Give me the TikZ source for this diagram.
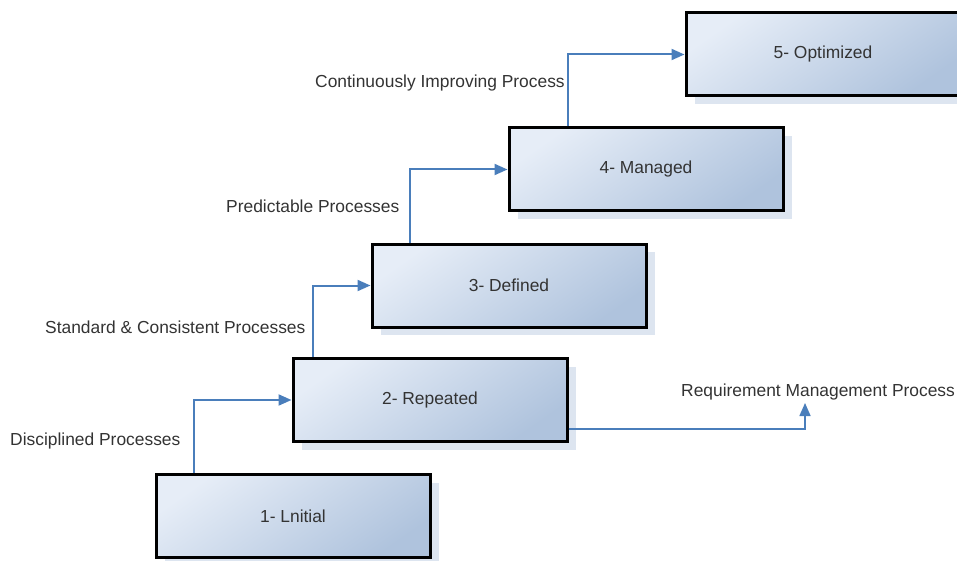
\documentclass[tikz,border=0pt]{standalone}
\usepackage{fontspec}
\setmainfont{Liberation Sans}
\usetikzlibrary{arrows.meta,shadows,calc}
\definecolor{boxlight}{HTML}{E6EDF7}
\definecolor{boxdark}{HTML}{AFC3DD}
\definecolor{shadowc}{HTML}{DDE5F0}
\definecolor{arrowc}{HTML}{4A7EBB}
\definecolor{textc}{HTML}{333333}
\tikzset{
  levelbox/.style={draw=black, line width=3pt, minimum width=274pt, minimum height=83pt,
    top color=boxlight, bottom color=boxdark, shading angle=35,
    drop shadow={shadow xshift=9pt, shadow yshift=-8pt, fill=shadowc, opacity=1},
    font=\fontsize{17.4}{20}\selectfont, text=textc, inner sep=0pt},
  lbl/.style={font=\fontsize{17.4}{20}\selectfont, text=textc, inner sep=0pt, anchor=west},
  flow/.style={draw=arrowc, line width=2pt, -{Triangle[length=13pt,width=11pt]}},
}
\begin{document}
\begin{tikzpicture}[x=1pt,y=-1pt]
\useasboundingbox (0,0) rectangle (957,561);
\node[levelbox] (b1) at (293,516) {1- Lnitial};
\node[levelbox] (b2) at (430,400) {2- Repeated};
\node[levelbox] (b3) at (509,285.5) {3- Defined};
\node[levelbox] (b4) at (646,169.5) {4- Managed};
\node[levelbox] (b5) at (823,54.5) {5- Optimized};

\node[lbl] (l1) at (10,441) {Disciplined Processes};
\node[lbl] (l2) at (45,327) {Standard \& Consistent Processes};
\node[lbl] (l3) at (226,206) {Predictable Processes};
\node[lbl] (l4) at (315,83) {Continuously Improving Process};
\node[lbl] (l5) at (681,392) {Requirement Management Process};

\coordinate (reqtip) at (805,403);

\draw[flow] (b1.north west -| 194,0) |- (b2.west);
\draw[flow] (b2.north west -| 313,0) |- (b3.west);
\draw[flow] (b3.north west -| 410,0) |- (b4.west);
\draw[flow] (b4.north west -| 568,0) |- (b5.west);
\draw[flow, line width=1.6pt] (b2.east |- 0,429) -| (reqtip);
\end{tikzpicture}
\end{document}
